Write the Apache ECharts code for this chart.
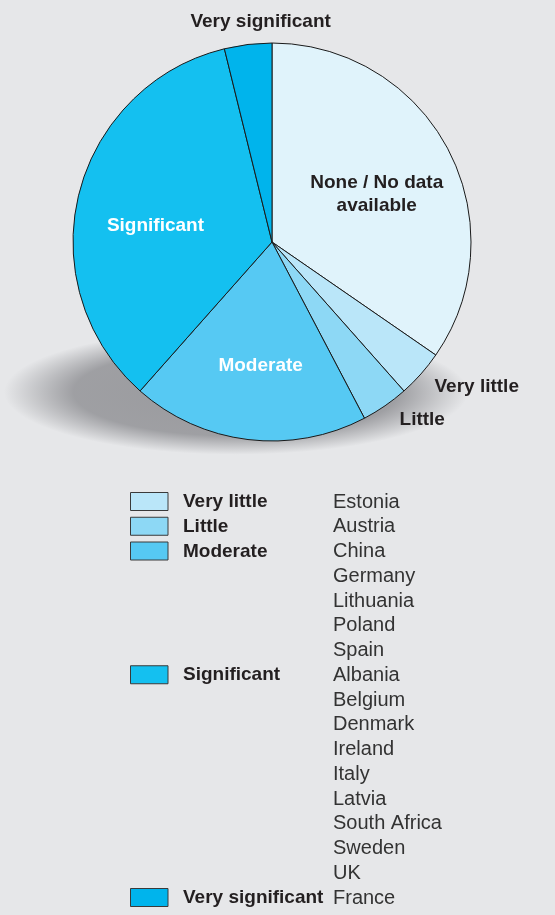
<!DOCTYPE html>
<html>
<head>
<meta charset="utf-8">
<script src="https://cdn.jsdelivr.net/npm/echarts@6/dist/echarts.min.js"></script>
<style>
html, body { margin: 0; padding: 0; background: #e6e7e9; }
#main { width: 555px; height: 915px; }
</style>
</head>
<body>
<div id="main"></div>
<script>
// slices, clockwise from 12 o'clock
var categories = ['None / No data\navailable', 'Very little', 'Little', 'Moderate', 'Significant', 'Very significant'];
var counts = [9, 1, 1, 5, 9, 1];
var colors = ['#e0f3fb', '#bae6f9', '#8dd8f5', '#56c9f3', '#14c0f0', '#00b4ec'];

// legend block under the pie
var legendNames = ['Very little', 'Little', 'Moderate', 'Significant', 'Very significant'];
var countries = [
    ['Estonia'],
    ['Austria'],
    ['China', 'Germany', 'Lithuania', 'Poland', 'Spain'],
    ['Albania', 'Belgium', 'Denmark', 'Ireland', 'Italy', 'Latvia', 'South Africa', 'Sweden', 'UK'],
    ['France']
];

var textDark = '#231f20';
var font = "'Liberation Sans', Arial, sans-serif";

// label nudges from the default 'inside' spot (px)
var labelShift = [[14, 0], [128, 77], [92, 93], [1, 22], [-17, 8], [1, -118]];
var labelColor = [textDark, textDark, textDark, '#ffffff', '#ffffff', textDark];

var myChart = echarts.init(document.getElementById('main'));

var pieData = [];
for (var i = 0; i < categories.length; i++) {
    pieData.push({
        name: categories[i],
        value: counts[i],
        itemStyle: { color: colors[i] },
        label: { color: labelColor[i] }
    });
}

var graphics = [];
// floor shadow under the pie
graphics.push({
    type: 'circle',
    z: -10,
    silent: true,
    x: 236, y: 392,
    scaleY: 0.27,
    shape: { cx: 0, cy: 0, r: 232 },
    style: {
        fill: new echarts.graphic.RadialGradient(0.5, 0.5, 0.5, [
            { offset: 0, color: 'rgba(60,60,66,0.45)' },
            { offset: 0.7, color: 'rgba(60,60,66,0.42)' },
            { offset: 1, color: 'rgba(60,60,66,0)' }
        ])
    }
});

var rowTop = 502, rowStep = 24.75, row = 0;
for (var g = 0; g < legendNames.length; g++) {
    var y0 = rowTop + row * rowStep;
    graphics.push({
        type: 'rect',
        shape: { x: 130.5, y: y0 - 9.5, width: 37.5, height: 18 },
        style: { fill: colors[g + 1], stroke: '#3a3a3a', lineWidth: 1 }
    });
    graphics.push({
        type: 'text',
        x: 183, y: y0,
        style: { text: legendNames[g], fill: textDark, font: 'bold 19px ' + font, textVerticalAlign: 'middle' }
    });
    for (var c = 0; c < countries[g].length; c++) {
        graphics.push({
            type: 'text',
            x: 333, y: rowTop + row * rowStep,
            style: { text: countries[g][c], fill: '#333333', font: '20px ' + font, textVerticalAlign: 'middle' }
        });
        row++;
    }
}

option = {
    backgroundColor: '#e6e7e9',
    animation: false,
    series: [
        {
            type: 'pie',
            z: 2,
            center: [272, 242],
            radius: 199,
            startAngle: 90,
            clockwise: true,
            avoidLabelOverlap: false,
            label: {
                show: true,
                position: 'inside',
                formatter: '{b}',
                fontFamily: font,
                fontWeight: 'bold',
                fontSize: 19,
                lineHeight: 23,
                align: 'center'
            },
            labelLine: { show: false },
            labelLayout: function (params) {
                var s = labelShift[params.dataIndex];
                return { dx: s[0], dy: s[1] };
            },
            itemStyle: {
                borderColor: '#1a1a1a',
                borderWidth: 1
            },
            emphasis: { disabled: true },
            data: pieData
        }
    ],
    graphic: graphics
};
myChart.setOption(option);
</script>
</body>
</html>
